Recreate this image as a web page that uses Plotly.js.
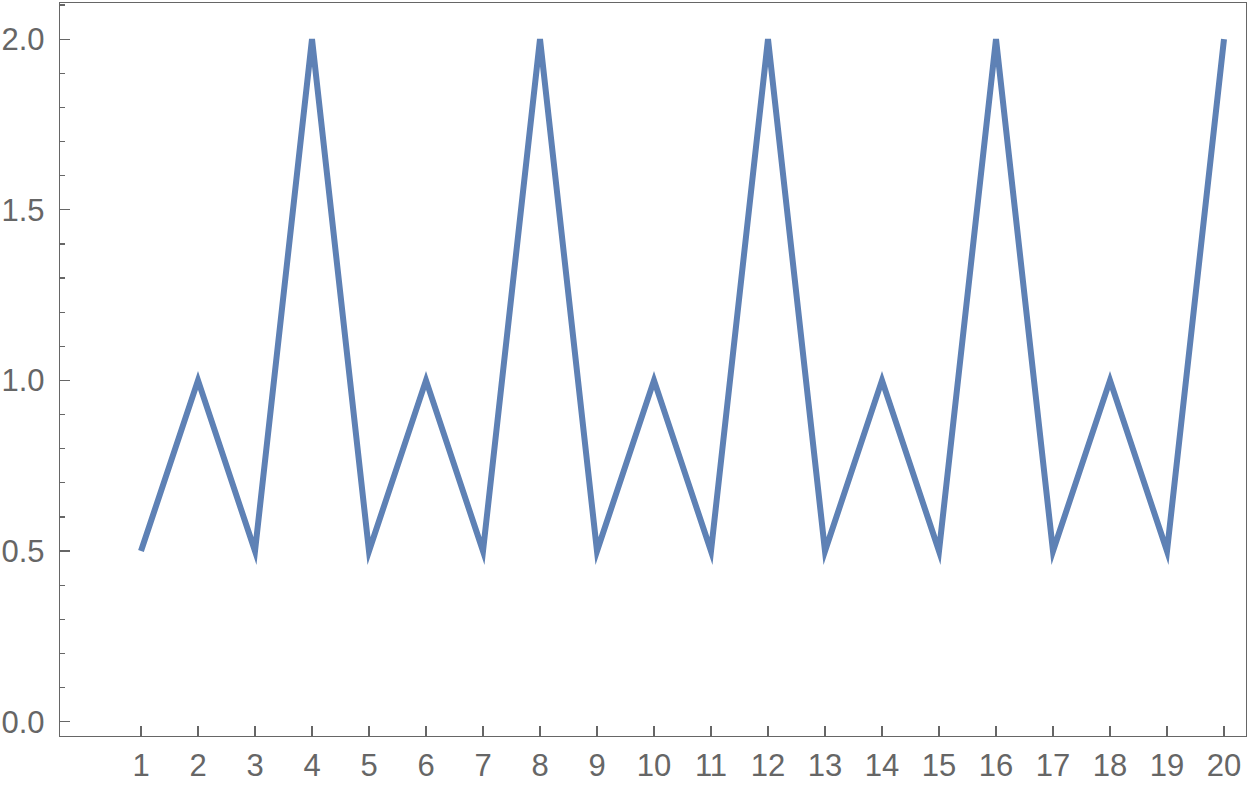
<!DOCTYPE html>
<html>
<head>
<meta charset="utf-8">
<script src="https://cdn.plot.ly/plotly-3.0.1.min.js"></script>
<style>html,body{margin:0;padding:0;background:#fff;}#chart{width:1248px;height:785px;}
.scatterlayer path.js-line{stroke-miterlimit:6;}</style>
</head>
<body>
<div id="chart"></div>
<script>
const xValues = [1,2,3,4,5,6,7,8,9,10,11,12,13,14,15,16,17,18,19,20];
const yValues = [0.5,1,0.5,2,0.5,1,0.5,2,0.5,1,0.5,2,0.5,1,0.5,2,0.5,1,0.5,2];
const yTickVals = [0,0.5,1,1.5,2];
const yTickText = ['0.0','0.5','1.0','1.5','2.0'];

const trace = {
  x: xValues, y: yValues, type: 'scatter', mode: 'lines',
  line: {color: '#5E81B5', width: 6}, hoverinfo: 'none'
};
const axisCommon = {
  showgrid: false, zeroline: false, showline: true, mirror: true,
  linecolor: '#666666', linewidth: 1.3, ticks: 'inside', tickcolor: '#666666',
  tickwidth: 1.3, ticklen: 10,
  tickfont: {family: "'Liberation Sans', Arial, sans-serif", size: 31, color: '#666666'}
};
const layout = {
  width: 1248, height: 785,
  margin: {l: 60, r: 2, t: 3, b: 49},
  paper_bgcolor: '#fff', plot_bgcolor: '#fff',
  showlegend: false,
  xaxis: Object.assign({}, axisCommon, {
    range: [-0.421, 20.386], tickvals: xValues, ticktext: xValues.map(String),
    ticklabelstandoff: 1
  }),
  yaxis: Object.assign({}, axisCommon, {
    range: [-0.042, 2.106], tickvals: yTickVals, ticktext: yTickText,
    ticklabelstandoff: 8,
    minor: {dtick: 0.1, tick0: 0, ticks: 'inside', ticklen: 5, tickcolor: '#666666', tickwidth: 1.3}
  })
};
Plotly.newPlot('chart', [trace], layout, {displayModeBar: false, staticPlot: true});
</script>
</body>
</html>
